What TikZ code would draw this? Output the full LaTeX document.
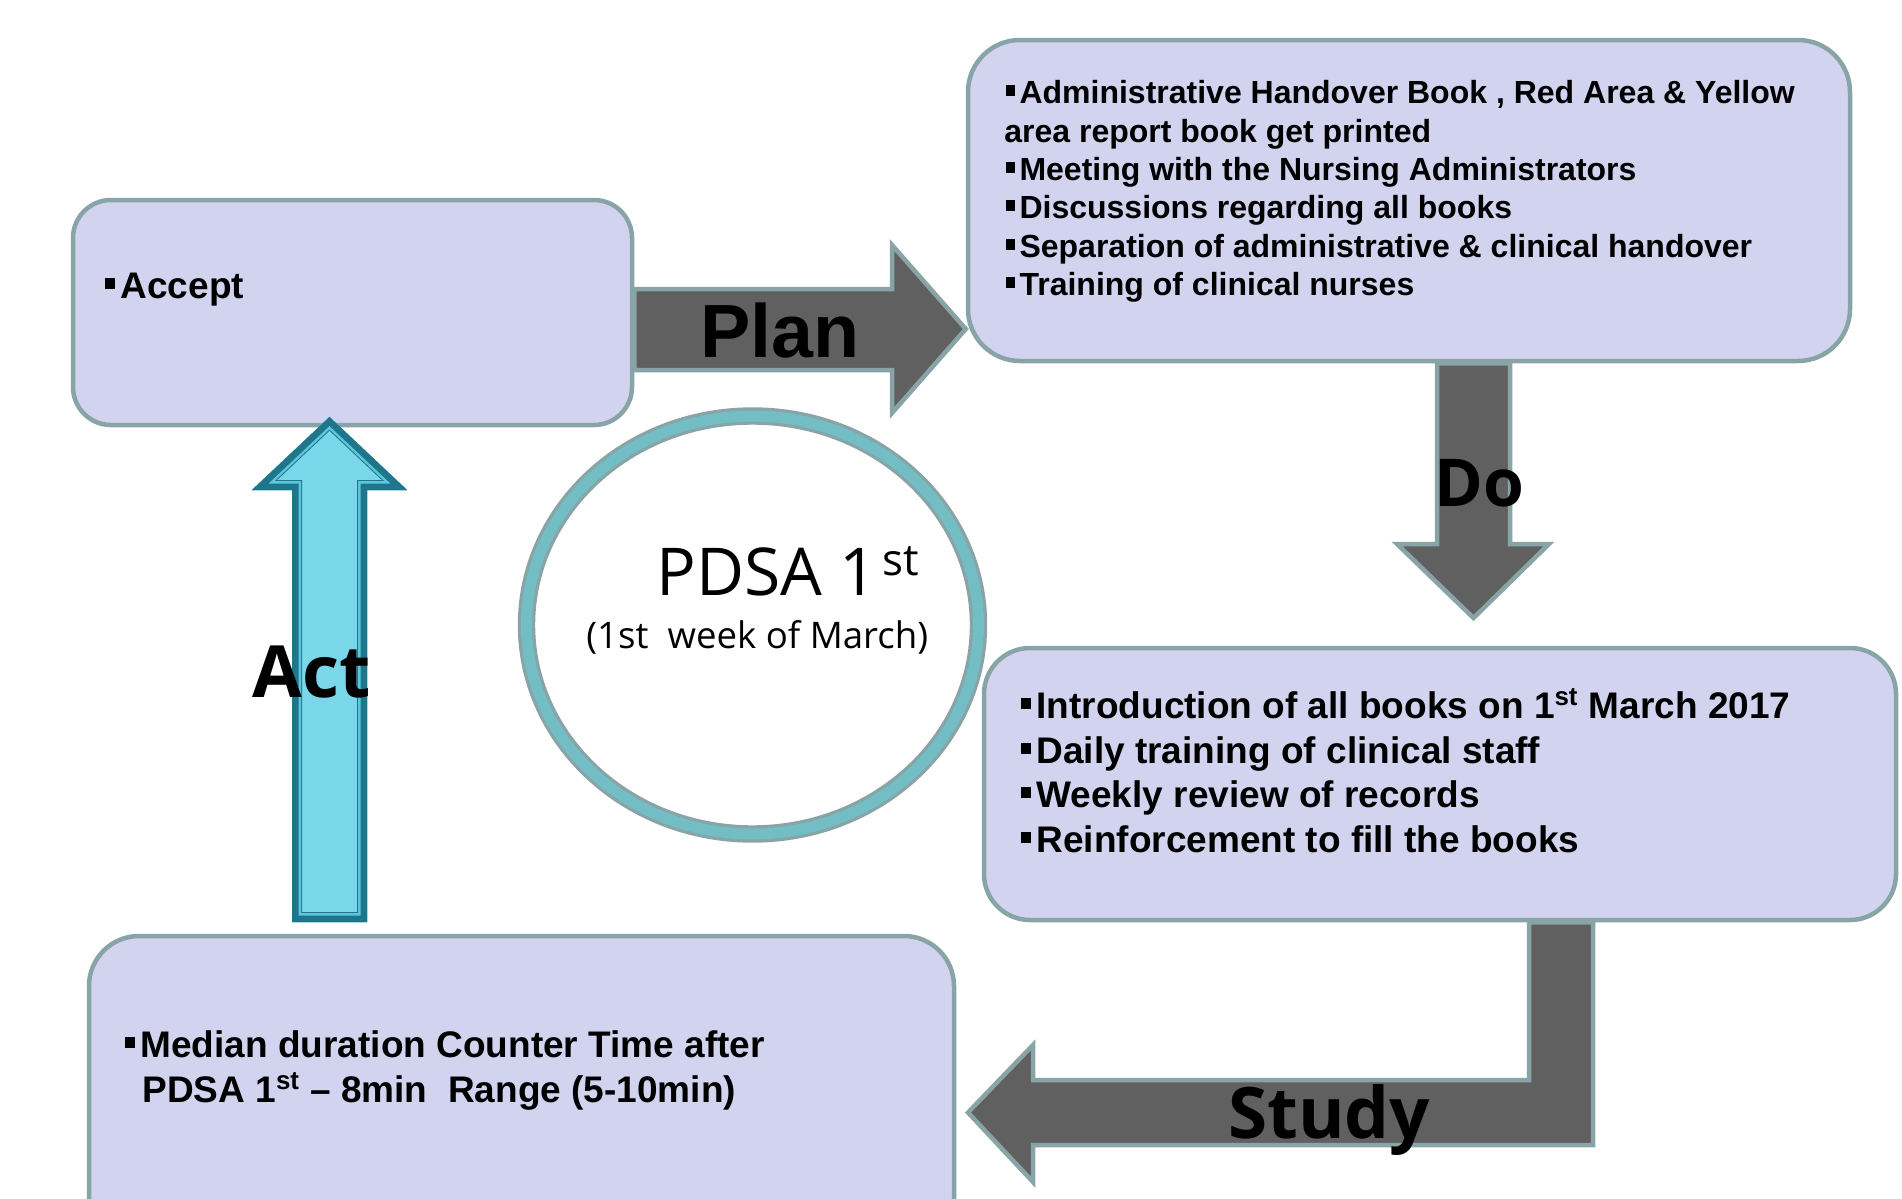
\documentclass[tikz,border=0pt]{standalone}
\usepackage{fontspec}
\setmainfont{Liberation Sans}
\newfontfamily\osans{Open Sans}
\usetikzlibrary{shapes.geometric,calc}
\pgfdeclarelayer{bg}
\pgfsetlayers{bg,main}
\definecolor{boxfill}{RGB}{210,211,239}
\definecolor{bordc}{RGB}{136,164,166}
\definecolor{darkarrow}{RGB}{96,96,96}
\definecolor{ringteal}{RGB}{115,189,197}
\definecolor{actfill}{RGB}{122,215,234}
\definecolor{actdark}{RGB}{31,117,137}
\definecolor{actlight}{RGB}{92,199,220}
\newcommand\bul{\rule[0.23em]{0.27em}{0.32em}\hspace{0.14em}}
\begin{document}
\begin{tikzpicture}[x=0.5pt,y=-0.5pt,
  box/.style={draw=bordc, line width=2.25pt, fill=boxfill, rectangle, inner sep=0pt},
  blockarrow/.style={fill=darkarrow, draw=bordc, line width=2.25pt, line join=miter},
  tline/.style={anchor=base west, inner sep=0pt, font=\bfseries\fontsize{#1}{#1}\selectfont},
  lab/.style={anchor=base west, inner sep=0pt, font=\osans\bfseries\fontsize{#1}{#1}\selectfont}]
\path[use as bounding box] (0,0) rectangle (1902,1199);
\begin{pgfonlayer}{bg}
\fill[white] (0,0) rectangle (1902,1199);
\end{pgfonlayer}

% boxes
\node[box, rounded corners=19pt, minimum width=279.5pt, minimum height=112.5pt] (accept) at (352.5,312.5) {};
\node[box, rounded corners=26pt, minimum width=441pt, minimum height=160.5pt] (plan) at (1409,200.5) {};
\node[box, rounded corners=23pt, minimum width=456pt, minimum height=136pt] (study) at (1440,784) {};
\begin{scope}
\clip (0,0) rectangle (1902,1199);
\node[box, rounded corners=25pt, minimum width=432.5pt, minimum height=167pt] (act) at (521.5,1103) {};
\end{scope}

% centre ellipse
\node[ellipse, draw=bordc, line width=1.6pt, double=ringteal, double distance=5.5pt, fill=white,
      minimum width=226pt, minimum height=209pt, inner sep=0pt] (pdsa) at (752.5,625) {};

% dark block arrows (behind boxes)
\begin{pgfonlayer}{bg}
\draw[blockarrow] (accept.east |- 0,289) -- (892,289) -- (892,245) -- (plan.west |- 0,329)
   -- (892,413) -- (892,370) -- (accept.east |- 0,370) -- cycle;
\draw[blockarrow] (1437,0 |- plan.south) -- (1510,0 |- plan.south) -- (1510,544) -- (1549,544)
   -- (1473.5,618) -- (1397,544) -- (1437,544) -- cycle;
\draw[blockarrow] (1529,0 |- study.south) -- (1593,0 |- study.south) -- (1593,1145) -- (1033,1145)
   -- (1033,1182) -- (968,1112.5) -- (1033,1045) -- (1033,1080) -- (1529,1080) -- cycle;
\end{pgfonlayer}

% Act arrow (on top)
\coordinate (acttip) at (accept.south -| 329.5,0);
\coordinate (acttail) at (329.5,922);
\def\actpath{(329.5,417) -- (407,490) -- (367,490) -- (367,922) -- (292,922) -- (292,490) -- (252,490) -- cycle}
\fill[actfill] \actpath;
\begin{scope}
\clip \actpath;
\draw[actdark, line width=10pt, line join=miter] \actpath;
\draw[actlight, line width=9pt, line join=miter] \actpath;
\draw[actdark, line width=6.5pt, line join=miter] \actpath;
\end{scope}

% box texts
\node[tline=18.5] (acc1) at (105,298) {\bul Accept};

\node[tline=16] (p1) at (1006,103) {\bul Administrative Handover Book , Red Area \& Yellow};
\node[tline=16] (p2) at (1004,142) {area report book get printed};
\node[tline=16] (p3) at (1006,180) {\bul Meeting with the Nursing Administrators};
\node[tline=16] (p4) at (1006,218) {\bul Discussions regarding all books};
\node[tline=16] (p5) at (1006,257) {\bul Separation of administrative \& clinical handover};
\node[tline=16] (p6) at (1006,295) {\bul Training of clinical nurses};

\node[tline=18.5] (s1) at (1021,718) {\bul Introduction of all books on 1\textsuperscript{st} March 2017};
\node[tline=18.5] (s2) at (1021,763) {\bul Daily training of clinical staff};
\node[tline=18.5] (s3) at (1021,807) {\bul Weekly review of records};
\node[tline=18.5] (s4) at (1021,852) {\bul Reinforcement to fill the books};

\node[tline=18.5] (a1) at (125,1057) {\bul Median duration Counter Time after};
\node[tline=18.5] (a2) at (142,1102) {PDSA 1\textsuperscript{st} -- 8min\ \ Range (5-10min)};

% arrow labels
\node[anchor=base west, inner sep=0pt, font=\bfseries\fontsize{37.7}{40}\selectfont] (planlab) at (700,357) {Plan};
\node[lab=33] (dolab) at (1434,506) {Do};
\node[lab=36] (actlab) at (252,697) {Act};
\node[lab=35.5] (studylab) at (1228,1138) {Study};

% centre texts
\node[anchor=base west, inner sep=0pt, font=\osans\fontsize{33}{34}\selectfont] (pdsa1) at (656,595) {PDSA 1};
\node[anchor=base west, inner sep=0pt, font=\osans\fontsize{22}{22}\selectfont] (pdsast) at (882,575) {st};
\node[anchor=base west, inner sep=0pt, font=\osans\fontsize{18.3}{18}\selectfont] (pdsasub) at (586,648) {(1st\ \ week of March)};
\end{tikzpicture}
\end{document}
